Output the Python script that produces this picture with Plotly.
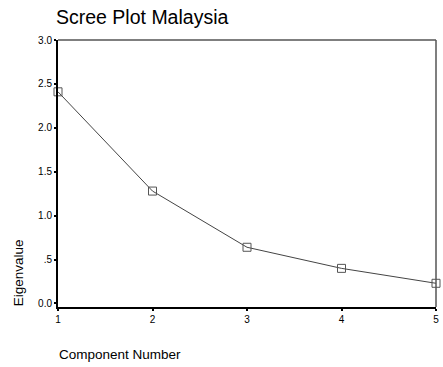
import plotly.graph_objects as go

components = [1, 2, 3, 4, 5]
eigenvalues = [2.41, 1.28, 0.64, 0.40, 0.23]
y_tickvals = [0.0, 0.5, 1.0, 1.5, 2.0, 2.5, 3.0]
y_ticktext = ["0.0", ".5", "1.0", "1.5", "2.0", "2.5", "3.0"]
x_tickvals = [1, 2, 3, 4, 5]

fig = go.Figure()
fig.add_trace(go.Scatter(
    x=components, y=eigenvalues, mode="lines+markers",
    line=dict(color="#444444", width=1),
    marker=dict(symbol="square-open", size=8, color="#555555", line=dict(width=1)),
    cliponaxis=False, showlegend=False,
))

fig.update_layout(
    width=443, height=367,
    margin=dict(l=58, r=4, t=40, b=60),
    paper_bgcolor="white", plot_bgcolor="white",
    font=dict(family="Liberation Sans, Arial, sans-serif", color="black"),
    title=dict(text="Scree Plot Malaysia", x=56/443, xanchor="left",
               y=1-17/367, yanchor="middle", font=dict(size=19.5)),
    xaxis=dict(range=[1, 5], tickvals=x_tickvals, ticks="outside", ticklen=2,
               tickwidth=2, tickcolor="black", showline=True, linecolor="black",
               linewidth=2, showgrid=False, zeroline=False,
               tickfont=dict(size=10)),
    yaxis=dict(range=[-0.04, 3.0], tickvals=y_tickvals, ticktext=y_ticktext,
               ticks="outside", ticklen=2, tickwidth=2, tickcolor="black",
               showline=True, linecolor="black", linewidth=2, showgrid=False,
               zeroline=False, tickfont=dict(size=10)),
    shapes=[
        dict(type="line", xref="paper", yref="paper", x0=0, x1=1, y0=1, y1=1,
             line=dict(color="#555555", width=1.5)),
        dict(type="line", xref="paper", yref="paper", x0=1, x1=1, y0=0, y1=1,
             line=dict(color="#555555", width=1.5)),
    ],
    annotations=[
        dict(text="Component Number", xref="paper", yref="paper",
             x=-1/381, xanchor="left", y=-47/267, yanchor="middle",
             showarrow=False, font=dict(size=13.5)),
        dict(text="Eigenvalue", xref="paper", yref="paper", textangle=-90,
             x=-40/381, xanchor="center", y=(307-273)/267, yanchor="middle",
             showarrow=False, font=dict(size=13.5)),
    ],
)

fig.write_html("out.html")
